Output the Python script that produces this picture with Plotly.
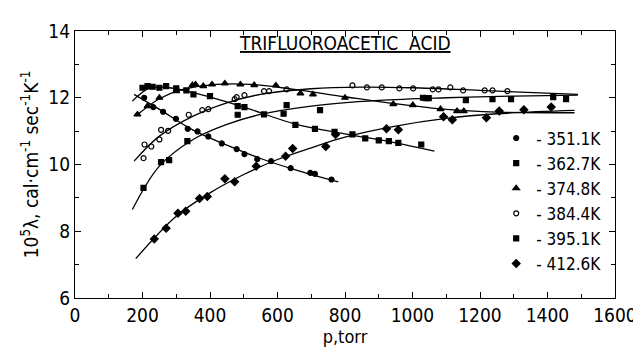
import plotly.graph_objects as go

# ---- data ----
labels = ["- 351.1K", "- 362.7K", "- 374.8K", "- 384.4K", "- 395.1K", "- 412.6K"]

p_351 = [205, 232, 261, 299, 334, 363, 395, 435, 479, 502, 540, 581, 639, 697, 711, 760]
k_351 = [12.0, 11.72, 11.58, 11.37, 11.07, 10.99, 10.84, 10.63, 10.46, 10.31, 10.16, 10.10, 9.89, 9.75, 9.72, 9.55]
cp_351 = [175, 250, 350, 450, 550, 650, 780]
ck_351 = [12.1, 11.65, 11.03, 10.58, 10.18, 9.85, 9.48]

p_362 = [200, 215, 230, 250, 270, 300, 330, 351, 400, 482, 502, 560, 653, 711, 769, 822, 860, 900, 930, 958, 1026]
k_362 = [12.3, 12.35, 12.33, 12.3, 12.35, 12.28, 12.22, 12.1, 12.05, 11.75, 11.72, 11.5, 11.19, 11.07, 10.98, 10.9, 10.78, 10.72, 10.7, 10.65, 10.6]
cp_362 = [170, 220, 280, 350, 500, 650, 800, 950, 1065]
ck_362 = [11.9, 12.28, 12.3, 12.15, 11.72, 11.22, 10.92, 10.65, 10.4]

p_374 = [185, 215, 250, 300, 348, 357, 380, 406, 444, 490, 531, 595, 668, 705, 800, 943, 1001, 1083, 1132, 1152]
k_374 = [11.5, 11.75, 12.0, 12.2, 12.38, 12.4, 12.35, 12.4, 12.43, 12.4, 12.38, 12.37, 12.13, 12.1, 12.0, 11.81, 11.78, 11.66, 11.6, 11.6]
cp_374 = [180, 250, 320, 420, 520, 650, 800, 950, 1100, 1250, 1480]
ck_374 = [11.45, 11.97, 12.25, 12.4, 12.4, 12.25, 12.03, 11.82, 11.65, 11.57, 11.55]

p_384 = [203, 206, 226, 250, 255, 276, 337, 377, 395, 473, 479, 502, 560, 575, 627, 822, 865, 909, 961, 1002, 1060, 1077, 1112, 1150, 1214, 1237, 1281]
k_384 = [10.19, 10.6, 10.54, 10.75, 11.04, 11.01, 11.49, 11.63, 11.66, 11.96, 12.02, 12.08, 12.2, 12.2, 12.25, 12.37, 12.31, 12.31, 12.28, 12.28, 12.25, 12.25, 12.31, 12.22, 12.22, 12.22, 12.2]
cp_384 = [175, 250, 350, 450, 550, 700, 850, 1000, 1200, 1490]
ck_384 = [10.1, 10.85, 11.45, 11.85, 12.1, 12.27, 12.32, 12.3, 12.22, 12.1]

p_395 = [203, 255, 279, 333, 482, 618, 627, 726, 1031, 1040, 1048, 1158, 1237, 1292, 1417, 1455]
k_395 = [9.3, 10.07, 10.13, 10.7, 11.49, 11.52, 11.78, 11.63, 12.0, 11.99, 11.99, 11.93, 11.96, 11.96, 12.02, 11.96]
cp_395 = [170, 250, 350, 450, 550, 700, 900, 1100, 1300, 1490]
ck_395 = [8.65, 9.95, 10.75, 11.2, 11.5, 11.75, 11.92, 12.0, 12.05, 12.08]

p_412 = [235, 270, 305, 328, 369, 392, 444, 473, 537, 624, 645, 743, 772, 923, 958, 1092, 1118, 1219, 1257, 1330, 1411]
k_412 = [7.77, 8.09, 8.54, 8.60, 8.98, 9.04, 9.57, 9.48, 9.95, 10.25, 10.48, 10.54, 10.9, 11.07, 11.04, 11.43, 11.34, 11.4, 11.6, 11.64, 11.72]
cp_412 = [180, 300, 400, 500, 600, 700, 800, 950, 1100, 1250, 1480]
ck_412 = [7.18, 8.45, 9.15, 9.7, 10.15, 10.5, 10.82, 11.15, 11.38, 11.52, 11.62]

points = [(p_351, k_351), (p_362, k_362), (p_374, k_374), (p_384, k_384), (p_395, k_395), (p_412, k_412)]
curves = [(cp_351, ck_351), (cp_362, ck_362), (cp_374, ck_374), (cp_384, ck_384), (cp_395, ck_395), (cp_412, ck_412)]

symbols = ["circle", "square", "triangle-up", "circle-open", "square", "diamond"]
sizes = [5, 5, 6, 5, 5, 6]

FONT = "DejaVu Sans Condensed, Liberation Sans, sans-serif"

fig = go.Figure()
for (cx, cy) in curves:
    fig.add_trace(go.Scatter(x=cx, y=cy, mode="lines", line=dict(color="black", width=1.3, shape="spline", smoothing=1.0),
                             showlegend=False, hoverinfo="skip"))
for (px, py), lab, sym, sz in zip(points, labels, symbols, sizes):
    fig.add_trace(go.Scatter(x=px, y=py, mode="markers", name=lab,
                             marker=dict(symbol=sym, size=sz, color="black", line=dict(color="black", width=1.2))))

fig.update_layout(
    width=641, height=347,
    margin=dict(l=67, r=23, t=22, b=53),
    paper_bgcolor="white", plot_bgcolor="white",
    font=dict(family=FONT, size=19, color="black"),
    showlegend=True,
    legend=dict(x=0.78, y=0.665, xanchor="left", yanchor="top", bgcolor="rgba(0,0,0,0)",
                font=dict(family=FONT, size=17), itemwidth=30, tracegroupgap=0),
    annotations=[dict(text="<u>TRIFLUOROACETIC  ACID</u>", x=0.5, y=0.955, xref="paper", yref="paper",
                      xanchor="center", yanchor="middle", showarrow=False, font=dict(family=FONT, size=19))],
)
fig.update_xaxes(range=[0, 1600], tickvals=[0, 200, 400, 600, 800, 1000, 1200, 1400, 1600],
                 ticks="inside", ticklen=6, tickwidth=1.2, tickcolor="black",
                 minor=dict(dtick=100, ticks="inside", ticklen=4, tickcolor="black"),
                 showline=True, linecolor="black", linewidth=1.3, mirror="ticks", showgrid=False, zeroline=False,
                 title=dict(text="p,torr", standoff=4, font=dict(size=18)))
fig.update_yaxes(range=[6, 14], tickvals=[6, 8, 10, 12, 14],
                 ticks="inside", ticklen=6, tickwidth=1.2, tickcolor="black",
                 minor=dict(dtick=1, ticks="inside", ticklen=4, tickcolor="black"),
                 showline=True, linecolor="black", linewidth=1.3, mirror="ticks", showgrid=False, zeroline=False,
                 title=dict(text="10<sup>5</sup>λ, cal·cm<sup>-1</sup> sec<sup>-1</sup>K<sup>-1</sup>", standoff=4, font=dict(size=19)))

fig.write_html("out.html")
